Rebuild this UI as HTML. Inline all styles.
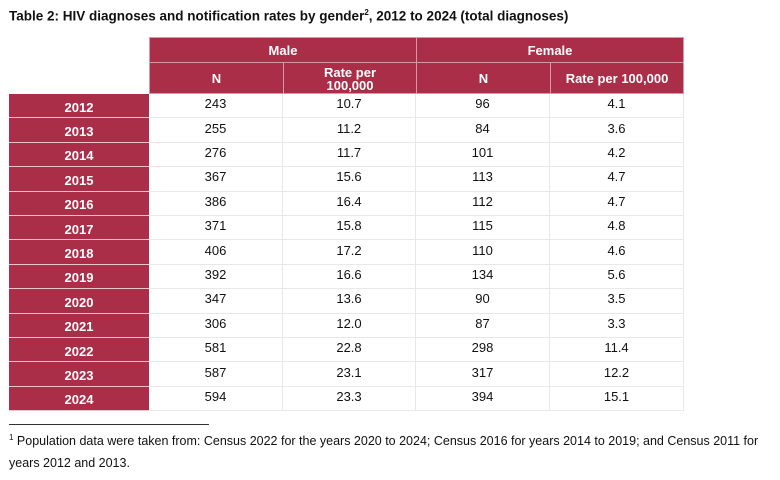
<!DOCTYPE html>
<html><head><meta charset="utf-8"><style>
body{margin:0;width:780px;height:480px;background:#fff;position:relative;font-family:"Liberation Sans",Arial,sans-serif;overflow:hidden}
.a{position:absolute;box-sizing:border-box;display:flex;align-items:center;justify-content:center;text-align:center}
.h{background:#aa2e48;color:#fff;font-weight:bold;font-size:13px;line-height:13px;border:1px solid #d59aa6}
.y{background:#aa2e48;color:#fff;font-weight:bold;font-size:13px;border-bottom:1px solid #e8c4cc}
.d{font-size:13px;color:#111;border-right:1px solid #e8e8e8;border-bottom:1px solid #e8e8e8;padding-bottom:4px}
</style></head><body>
<div style="position:absolute;left:9px;top:8px;font-size:13.5px;font-weight:bold;color:#111;white-space:nowrap">Table 2: HIV diagnoses and notification rates by gender<sup style="font-size:8px">2</sup>, 2012 to 2024 (total diagnoses)</div>
<div class="a h" style="left:149px;top:37px;width:268px;height:26px">Male</div>
<div class="a h" style="left:416px;top:37px;width:268px;height:26px">Female</div>
<div class="a h" style="left:149px;top:62px;width:135px;height:32px">N</div>
<div class="a h" style="left:283px;top:62px;width:134px;height:32px;padding-top:2px">Rate per<br>100,000</div>
<div class="a h" style="left:416px;top:62px;width:135px;height:32px">N</div>
<div class="a h" style="left:550px;top:62px;width:134px;height:32px">Rate per 100,000</div>
<div id="rows"></div>
<div style="position:absolute;left:9px;top:424px;width:200px;height:1px;background:#333"></div>
<div style="position:absolute;left:9px;top:427px;width:780px;font-size:12.5px;line-height:22px;color:#111;white-space:nowrap"><sup style="font-size:8px">1</sup> Population data were taken from: Census 2022 for the years 2020 to 2024; Census 2016 for years 2014 to 2019; and Census 2011 for<br>years 2012 and 2013.</div>
<script>
var d=[["2012",243,"10.7",96,"4.1"],["2013",255,"11.2",84,"3.6"],["2014",276,"11.7",101,"4.2"],["2015",367,"15.6",113,"4.7"],["2016",386,"16.4",112,"4.7"],["2017",371,"15.8",115,"4.8"],["2018",406,"17.2",110,"4.6"],["2019",392,"16.6",134,"5.6"],["2020",347,"13.6",90,"3.5"],["2021",306,"12.0",87,"3.3"],["2022",581,"22.8",298,"11.4"],["2023",587,"23.1",317,"12.2"],["2024",594,"23.3",394,"15.1"]];
var h="",xs=[149,283,416,550,684];
d.forEach(function(r,i){var t=94+i*24.4;
h+='<div class="a y" style="left:9px;top:'+t+'px;width:140px;height:24.4px;padding-top:3px">'+r[0]+'</div>';
for(var j=0;j<4;j++)h+='<div class="a d" style="left:'+xs[j]+'px;top:'+t+'px;width:'+(xs[j+1]-xs[j])+'px;height:24.4px">'+r[j+1]+'</div>';});
document.getElementById("rows").innerHTML=h;
</script>
</body></html>
